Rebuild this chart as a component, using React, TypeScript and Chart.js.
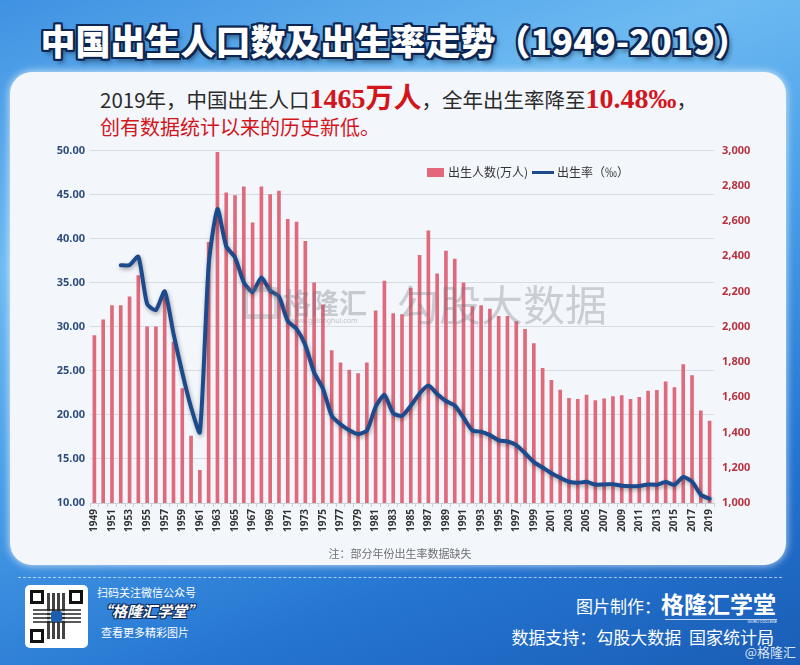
import React, { useEffect, useRef } from 'react';
import Chart from 'chart.js/auto';

const years = [
  '1949','1950','1951','1952','1953','1954','1955','1956','1957','1958',
  '1959','1960','1961','1962','1963','1964','1965','1966','1967','1968',
  '1969','1970','1971','1972','1973','1974','1975','1976','1977','1978',
  '1979','1980','1981','1982','1983','1984','1985','1986','1987','1988',
  '1989','1990','1991','1992','1993','1994','1995','1996','1997','1998',
  '1999','2000','2001','2002','2003','2004','2005','2006','2007','2008',
  '2009','2010','2011','2012','2013','2014','2015','2016','2017','2018',
  '2019',
];

// 出生人数(万人)
const births = [
  1950, 2040, 2120, 2120, 2170, 2290, 2000, 2000, 2170, 1913,
  1650, 1380, 1185, 2480, 2990, 2760, 2745, 2795, 2590, 2795,
  2750, 2770, 2610, 2595, 2485, 2250, 2125, 1865, 1795, 1755,
  1735, 1795, 2090, 2260, 2075, 2070, 2220, 2405, 2545, 2300,
  2430, 2385, 2250, 2115, 2120, 2100, 2060, 2060, 2030, 1985,
  1905, 1765, 1696, 1641, 1594, 1588, 1612, 1581, 1591, 1604,
  1610, 1588, 1600, 1635, 1640, 1687, 1655, 1786, 1723, 1523,
  1465,
];

// 出生率(‰) — 部分年份缺失
const rates: (number | null)[] = [
  null, null, null, 37.0, 37.0, 37.97, 32.6, 31.9, 34.03, 29.22,
  24.78, 20.86, 18.02, 37.01, 43.37, 39.14, 37.88, 35.05, 33.96, 35.59,
  34.11, 33.43, 30.65, 29.77, 27.93, 24.82, 23.01, 19.91, 18.93, 18.25,
  17.82, 18.21, 20.91, 22.28, 20.19, 19.9, 21.04, 22.43, 23.33, 22.37,
  21.58, 21.06, 19.68, 18.24, 18.09, 17.7, 17.12, 16.98, 16.57, 15.64,
  14.64, 14.03, 13.38, 12.86, 12.41, 12.29, 12.4, 12.09, 12.1, 12.14,
  11.95, 11.9, 11.93, 12.1, 12.08, 12.37, 12.07, 12.95, 12.43, 10.94,
  10.48,
];

const rateMin = 10;
const rateMax = 50;
const rateStep = 5;
const birthMin = 1000;
const birthMax = 3000;
const birthStep = 200;

const CJK = '"Noto Sans CJK SC", "Noto Sans", sans-serif';
const NUM = '"Noto Sans", "Open Sans", sans-serif';

const lineShadow = {
  id: 'lineShadow',
  beforeDatasetDraw(chart: any, args: any) {
    if (chart.data.datasets[args.index].type !== 'line') return;
    const ctx = chart.ctx;
    ctx.save();
    ctx.shadowColor = 'rgba(0,0,0,0.35)';
    ctx.shadowBlur = 4;
    ctx.shadowOffsetX = 1;
    ctx.shadowOffsetY = 2;
  },
  afterDatasetDraw(chart: any, args: any) {
    if (chart.data.datasets[args.index].type !== 'line') return;
    chart.ctx.restore();
  },
};

function BirthChart() {
  const ref = useRef<HTMLCanvasElement | null>(null);
  useEffect(() => {
    if (!ref.current) return;
    const chart = new Chart(ref.current, {
      data: {
        labels: years,
        datasets: [
          {
            type: 'line',
            label: '出生率（‰）',
            data: rates,
            yAxisID: 'yRate',
            borderColor: '#1d4a8c',
            borderWidth: 4,
            pointRadius: 0,
            tension: 0.2,
            spanGaps: false,
            borderCapStyle: 'round',
            borderJoinStyle: 'round',
            order: 0,
          } as any,
          {
            type: 'bar',
            label: '出生人数(万人)',
            data: births,
            yAxisID: 'yBirth',
            backgroundColor: '#e06a7b',
            barThickness: 3,
            order: 1,
          } as any,
        ],
      },
      plugins: [lineShadow],
      options: {
        animation: false,
        responsive: false,
        maintainAspectRatio: false,
        layout: { padding: { top: 10, left: 0, right: 0, bottom: 0 } },
        plugins: { legend: { display: false }, tooltip: { enabled: false } },
        scales: {
          x: {
            type: 'category',
            offset: true,
            grid: { display: true, drawOnChartArea: false, drawTicks: true, tickLength: 4, color: '#c9d0d8' },
            border: { display: true, color: '#c9d0d8' },
            ticks: {
              autoSkip: false,
              maxRotation: 90,
              minRotation: 90,
              padding: 2,
              color: '#333',
              font: { size: 10, weight: 'bold', family: NUM },
              callback: (_v: any, i: number) => (i % 2 === 0 ? years[i] : ''),
            },
            afterFit: (s: any) => { s.height = 43; },
          },
          yRate: {
            type: 'linear',
            position: 'left',
            min: rateMin,
            max: rateMax,
            ticks: {
              stepSize: rateStep,
              padding: 5,
              color: '#2e4d7c',
              font: { size: 11, weight: 'bold', family: NUM },
              callback: (v: any) => Number(v).toFixed(2),
            },
            grid: { color: '#d6dce4', drawTicks: false },
            border: { display: false },
            afterFit: (s: any) => { s.width = 50; },
          },
          yBirth: {
            type: 'linear',
            position: 'right',
            min: birthMin,
            max: birthMax,
            ticks: {
              stepSize: birthStep,
              padding: 8,
              color: '#b5343f',
              font: { size: 11, weight: 'bold', family: NUM },
              callback: (v: any) => Number(v).toLocaleString('en-US'),
            },
            grid: { display: false, drawTicks: false },
            border: { display: false },
            afterFit: (s: any) => { s.width = 66; },
          },
        },
      } as any,
    });
    return () => chart.destroy();
  }, []);
  return (
    <canvas
      ref={ref}
      width={740}
      height={410}
      style={{ position: 'absolute', left: 40, top: 136, width: 740, height: 410 }}
    />
  );
}

const abs = (o: React.CSSProperties): React.CSSProperties => ({ position: 'absolute', ...o });

export default function App() {
  const titleShadow =
    '2px 2px 0 #0d2552, -2px -2px 0 #0d2552, 2px -2px 0 #0d2552, -2px 2px 0 #0d2552, 0 2px 0 #0d2552, 2px 0 0 #0d2552, 0 -2px 0 #0d2552, -2px 0 0 #0d2552, 3px 4px 5px rgba(0,0,0,0.45)';
  const redNum: React.CSSProperties = {
    color: '#d2161c',
    fontWeight: 700,
    fontSize: 28,
    fontFamily: '"Liberation Serif", "DejaVu Serif", ' + CJK,
  };
  return (
    <div
      style={{
        position: 'fixed',
        left: 0,
        top: 0,
        width: 800,
        height: 665,
        overflow: 'hidden',
        fontFamily: CJK,
        background:
          'linear-gradient(160deg, #3f92e2 0%, #6dbaf2 28%, #4a9fe8 50%, #2474d0 78%, #1a5db6 100%)',
      }}
    >
      {/* Title */}
      <div
        style={abs({
          left: 0,
          top: 14,
          width: 790,
          height: 52,
          lineHeight: '52px',
          textAlign: 'center',
          color: '#ffffff',
          fontSize: 35,
          fontWeight: 900,
          letterSpacing: 0,
          textShadow: titleShadow,
        })}
      >
        中国出生人口数及出生率走势（1949-2019）
      </div>

      {/* Card */}
      <div
        style={abs({
          left: 10,
          top: 72,
          width: 776,
          height: 493,
          borderRadius: 22,
          background: '#f3f7fc',
          boxShadow: '0 0 8px rgba(255,255,255,0.8)',
        })}
      />

      {/* Subtitle */}
      <div style={abs({ left: 100, top: 83, whiteSpace: 'nowrap', color: '#2b2b2b', fontSize: 20.5, lineHeight: '32px' })}>
        2019年，中国出生人口<span style={redNum}>1465万人</span>，全年出生率降至<span style={redNum}>10.48‰</span>，
      </div>
      <div style={abs({ left: 100, top: 114, whiteSpace: 'nowrap', color: '#d2161c', fontSize: 20, lineHeight: '26px' })}>
        创有数据统计以来的历史新低。
      </div>

      <BirthChart />

      {/* Watermarks */}
      <div style={abs({ left: 243, top: 287, width: 36, height: 32, border: '5px solid rgba(120,120,130,0.28)', borderRadius: 3, boxSizing: 'border-box', pointerEvents: 'none' })} />
      <div style={abs({ left: 283, top: 282, fontSize: 28, color: 'rgba(110,110,120,0.32)', fontWeight: 700, whiteSpace: 'nowrap', pointerEvents: 'none' })}>
        格隆汇
      </div>
      <div style={abs({ left: 290, top: 316, fontSize: 7, color: 'rgba(110,110,120,0.4)', whiteSpace: 'nowrap', fontFamily: NUM })}>
        www.gelonghui.com
      </div>
      <div style={abs({ left: 397, top: 272, fontSize: 42, color: 'rgba(110,110,120,0.3)', whiteSpace: 'nowrap', pointerEvents: 'none' })}>
        勾股大数据
      </div>

      {/* Legend */}
      <div style={abs({ left: 427, top: 168, width: 17, height: 9, background: '#e2687a' })} />
      <div style={abs({ left: 448, top: 163, fontSize: 12, lineHeight: '18px', color: '#333', whiteSpace: 'nowrap' })}>
        出生人数(万人)
      </div>
      <div style={abs({ left: 532, top: 171, width: 22, height: 3, background: '#1d4a8c' })} />
      <div style={abs({ left: 557, top: 163, fontSize: 12, lineHeight: '18px', color: '#333', whiteSpace: 'nowrap' })}>
        出生率（‰）
      </div>

      {/* Note */}
      <div style={abs({ left: 0, width: 800, top: 544, textAlign: 'center', fontSize: 11, color: '#6f6f6f', lineHeight: '18px' })}>
        注：部分年份出生率数据缺失
      </div>

      {/* Footer */}
      <div style={abs({ left: 18, top: 577, width: 764, borderTop: '1px dashed rgba(255,255,255,0.6)' })} />
      <div style={abs({ left: 25, top: 585, width: 63, height: 63, background: '#fff', borderRadius: 5 })}>
        <div style={abs({ left: 5, top: 5, width: 14, height: 14, border: '3px solid #111', boxSizing: 'border-box' })} />
        <div style={abs({ right: 5, top: 5, width: 14, height: 14, border: '3px solid #111', boxSizing: 'border-box' })} />
        <div style={abs({ left: 5, bottom: 5, width: 14, height: 14, border: '3px solid #111', boxSizing: 'border-box' })} />
        <div style={abs({ left: 22, top: 8, width: 18, height: 46, background: 'repeating-linear-gradient(90deg,#222 0 3px,#fff 3px 5px)', opacity: 0.85 })} />
        <div style={abs({ left: 8, top: 24, width: 48, height: 14, background: 'repeating-linear-gradient(0deg,#222 0 2px,#fff 2px 4px)', opacity: 0.75 })} />
        <div style={abs({ left: 26, top: 26, width: 11, height: 11, background: '#1c5fb0', borderRadius: 2 })} />
      </div>
      <div style={abs({ left: 97, top: 584, fontSize: 11, color: '#fff', whiteSpace: 'nowrap', lineHeight: '16px' })}>
        扫码关注微信公众号
      </div>
      <div
        style={abs({
          left: 97,
          top: 600,
          fontSize: 15,
          color: '#fff',
          fontWeight: 700,
          fontStyle: 'italic',
          whiteSpace: 'nowrap',
          lineHeight: '22px',
          textShadow: '1px 1px 0 #0d2552, -1px -1px 0 #0d2552, 1px -1px 0 #0d2552, -1px 1px 0 #0d2552',
        })}
      >
        “格隆汇学堂”
      </div>
      <div style={abs({ left: 101, top: 624, fontSize: 11, color: '#fff', whiteSpace: 'nowrap', lineHeight: '16px' })}>
        查看更多精彩图片
      </div>

      <div style={abs({ right: 24, top: 588, whiteSpace: 'nowrap', color: '#fff', lineHeight: '30px' })}>
        <span style={{ fontSize: 17 }}>图片制作：</span>
        <span style={{ fontSize: 23, fontWeight: 700 }}>格隆汇学堂</span>
      </div>
      <div style={abs({ left: 665, top: 619, width: 112, borderTop: '1px solid rgba(255,255,255,0.7)' })} />
      <div style={abs({ right: 23, top: 619, fontSize: 4, color: '#fff', fontFamily: NUM, whiteSpace: 'nowrap', lineHeight: '6px' })}>
        GURU COLLEGE
      </div>
      <div style={abs({ right: 26, top: 624, fontSize: 17, color: '#fff', whiteSpace: 'nowrap', lineHeight: '26px' })}>
        数据支持：勾股大数据&nbsp;&nbsp;国家统计局
      </div>
      <div style={abs({ right: 4, top: 643, fontSize: 13, color: 'rgba(255,255,255,0.85)', whiteSpace: 'nowrap', lineHeight: '18px' })}>
        @格隆汇
      </div>
    </div>
  );
}
